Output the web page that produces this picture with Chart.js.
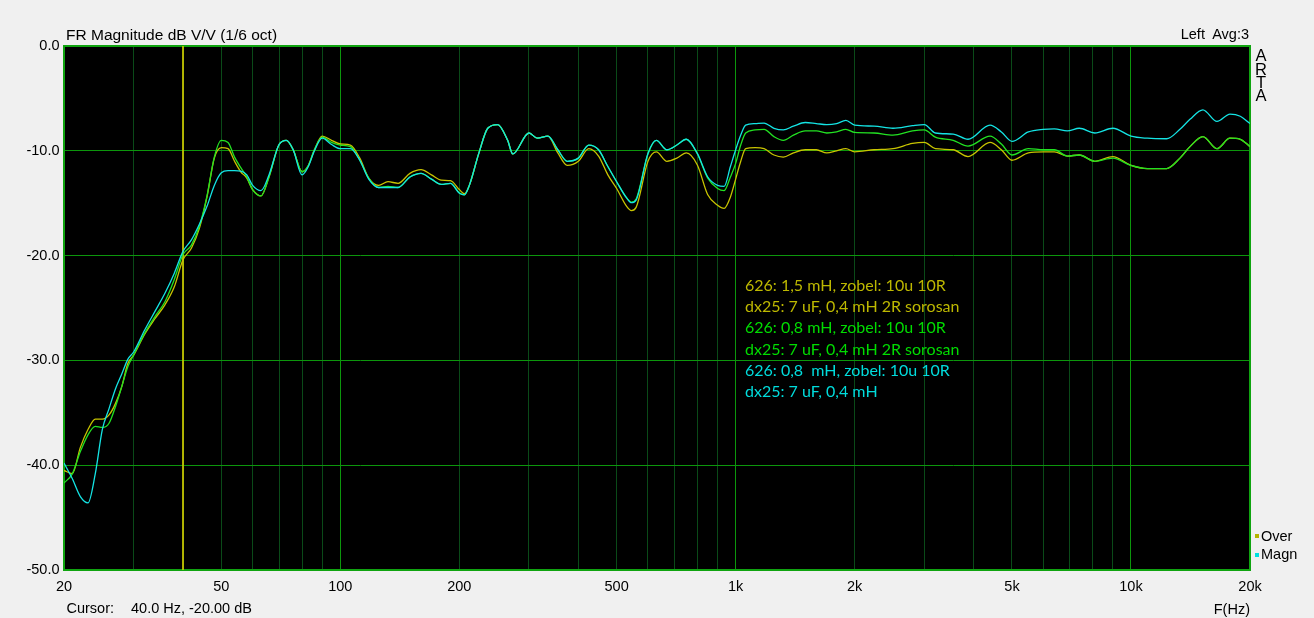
<!DOCTYPE html>
<html>
<head>
<meta charset="utf-8">
<script src="https://cdn.jsdelivr.net/npm/chart.js@4.4.0/dist/chart.umd.min.js"></script>
<style>
  html, body { margin: 0; padding: 0; background: #f0f0f0; }
  #wrap { position: relative; width: 1314px; height: 618px; overflow: hidden; }
  #wrap canvas { position: absolute; left: 0; top: 0; }
  .t { position: absolute; font-family: "Liberation Sans", Arial, sans-serif; color: #000; white-space: pre; line-height: 1; }
  .note { position: absolute; left: 745px; top: 274.3px; font-family: Lato, sans-serif; font-size: 16px; line-height: 21.1px; }
  .note span { display: block; white-space: pre; }
  .sq { position: absolute; width: 4px; height: 4px; }
</style>
</head>
<body>
<div id="wrap">
  <canvas id="fr" width="1314" height="618"></canvas>
  <div class="t" style="left:66px; top:26.6px; font-size:15.5px">FR Magnitude dB V/V (1/6 oct)</div>
  <div class="t" style="right:65px; top:27.4px; font-size:14.5px">Left  Avg:3</div>
  <div class="t" style="left:1251px; width:20px; top:49.3px; font-size:16.5px; line-height:13.33px; text-align:center">A<br>R<br>T<br>A</div>
  <div class="t" style="left:66.5px; top:601.4px; font-size:14.5px">Cursor:</div>
  <div class="t" style="left:131px; top:601.4px; font-size:14.5px">40.0 Hz, -20.00 dB</div>
  <div class="t" style="right:64px; top:601.7px; font-size:14.5px">F(Hz)</div>
  <div class="sq" style="left:1255px; top:534px; background:#b4b400"></div>
  <div class="t" style="left:1261px; top:528.7px; font-size:14.5px">Over</div>
  <div class="sq" style="left:1255px; top:553px; background:#00e0e0"></div>
  <div class="t" style="left:1261px; top:546.7px; font-size:14.5px">Magn</div>
  <div class="note"><span style="color:#bdb800">626: 1,5 mH, zobel: 10u 10R</span><span style="color:#bdb800">dx25: 7 uF, 0,4 mH 2R sorosan</span><span style="color:#00dc00">626: 0,8 mH, zobel: 10u 10R</span><span style="color:#00dc00">dx25: 7 uF, 0,4 mH 2R sorosan</span><span style="color:#00dcdc">626: 0,8  mH, zobel: 10u 10R</span><span style="color:#00dcdc">dx25: 7 uF, 0,4 mH</span></div>
</div>
<script>
// frequency points (Hz) shared by all three measurements
const freqHz = [20,21,22,23,24,25,26,27,28,29,30,32,34,36,38,40,42,44,46,48,50,52,54,56,58,60,63,66,70,73,76,80,83,86,90,95,
  100,106,112,118,125,132,140,150,160,170,180,190,200,206,212,224,236,250,265,273,300,315,335,355,375,400,425,450,475,
  500,530,545,560,600,630,670,710,750,800,850,900,935,970,1000,1030,1060,1120,1180,1250,1320,1400,1500,1600,1700,1800,1900,
  2000,2240,2500,2800,3000,3200,3550,3870,4400,4700,5000,5500,6000,6400,6900,7400,8100,9000,10000,11000,12300,13300,14100,
  15200,16500,17800,18900,20000];

// 626: 1,5 mH, zobel 10u 10R / dx25: 7 uF, 0,4 mH 2R sorosan
const yellowDb = [-40.5,-40.8,-38.3,-36.6,-35.6,-35.6,-35.2,-34.1,-32.5,-30.3,-29.5,-27.5,-26.0,-24.7,-23.0,-20.4,-19.3,-17.4,-14.4,-10.7,-9.7,-9.8,-11.0,-12.0,-12.6,-13.7,-14.3,-12.5,-9.4,-9.0,-9.9,-12.0,-11.4,-9.9,-8.6,-9.0,
  -9.35,-9.45,-10.7,-12.6,-13.3,-12.95,-13.1,-12.15,-11.8,-12.3,-12.8,-12.85,-13.7,-14.1,-13.3,-10.25,-7.85,-7.5,-9.0,-10.3,-8.3,-8.8,-8.6,-10.2,-11.4,-11.0,-9.8,-10.5,-12.3,
  -13.6,-15.3,-15.7,-15.4,-11.0,-10.1,-11.0,-10.7,-10.2,-11.35,-14.2,-15.2,-15.5,-14.4,-12.7,-11.0,-9.8,-9.7,-9.8,-10.4,-10.6,-10.2,-9.9,-9.9,-10.2,-10.0,-9.8,
  -10.1,-9.9,-9.8,-9.3,-9.2,-9.8,-9.9,-10.55,-9.2,-9.9,-10.9,-10.2,-10.1,-10.1,-10.5,-10.4,-11.0,-10.55,-11.4,-11.7,-11.7,-10.7,-9.6,
  -8.65,-9.8,-8.8,-8.9,-9.6];

// 626: 0,8 mH, zobel 10u 10R / dx25: 7 uF, 0,4 mH 2R sorosan
const greenDb = [-41.7,-40.8,-38.7,-37.1,-36.3,-36.4,-36.0,-34.4,-32.5,-30.6,-29.5,-27.4,-25.8,-24.4,-22.3,-19.9,-19.0,-17.2,-14.3,-10.6,-9.0,-9.2,-10.6,-11.6,-12.5,-13.7,-14.3,-12.5,-9.4,-9.0,-9.9,-12.0,-11.4,-9.9,-8.7,-9.2,
  -9.45,-9.6,-10.9,-12.6,-13.5,-13.4,-13.5,-12.5,-12.15,-12.7,-13.2,-13.1,-14.0,-14.2,-13.3,-10.25,-7.85,-7.5,-9.0,-10.3,-8.3,-8.8,-8.6,-9.9,-11.0,-10.7,-9.45,-9.9,-11.5,
  -12.95,-14.5,-14.9,-14.6,-10.3,-9.0,-9.9,-9.45,-8.9,-10.3,-12.6,-13.6,-13.8,-12.5,-11.2,-9.45,-8.3,-8.0,-7.95,-8.65,-9.0,-8.5,-8.1,-8.1,-8.3,-8.2,-7.95,
  -8.25,-8.3,-8.5,-8.1,-8.0,-8.7,-9.0,-9.55,-8.6,-9.35,-10.4,-9.8,-9.9,-9.9,-10.5,-10.4,-11.0,-10.7,-11.4,-11.7,-11.7,-10.7,-9.6,
  -8.65,-9.8,-8.8,-8.9,-9.6];

// 626: 0,8 mH, zobel 10u 10R / dx25: 7 uF, 0,4 mH
const cyanDb = [-39.8,-41.3,-43.0,-43.6,-40.8,-36.6,-34.6,-32.7,-31.3,-29.9,-29.2,-27.1,-25.3,-23.6,-21.7,-19.6,-18.5,-17.0,-15.3,-13.3,-12.1,-11.9,-11.9,-11.95,-12.3,-13.3,-13.8,-12.3,-9.4,-9.0,-9.9,-12.3,-11.5,-10.0,-8.8,-9.4,
  -9.8,-9.8,-10.9,-12.7,-13.5,-13.5,-13.5,-12.5,-12.15,-12.7,-13.2,-13.1,-14.05,-14.2,-13.3,-10.25,-7.85,-7.5,-9.0,-10.3,-8.3,-8.8,-8.6,-9.9,-11.0,-10.7,-9.45,-9.9,-11.5,
  -12.95,-14.5,-14.95,-14.7,-10.25,-9.0,-9.9,-9.45,-8.9,-10.25,-12.5,-13.3,-13.4,-11.5,-9.9,-8.5,-7.55,-7.4,-7.35,-7.85,-8.0,-7.65,-7.3,-7.4,-7.5,-7.4,-7.1,
  -7.55,-7.65,-7.85,-7.6,-7.5,-8.3,-8.4,-8.9,-7.55,-8.2,-9.1,-8.2,-7.95,-7.9,-8.1,-7.85,-8.3,-7.85,-8.6,-8.8,-8.85,-7.95,-7.0,
  -6.1,-7.2,-6.5,-6.7,-7.4];

const cursorHz = 40;
const yRangeDb = [-50, 0];

const xGridHz = [20,30,40,50,60,70,80,90,100,200,300,400,500,600,700,800,900,1000,2000,3000,4000,5000,6000,7000,8000,9000,10000,20000];
const xLabelHz = [20,50,100,200,500,1000,2000,5000,10000,20000];
const xLabelText = ['20','50','100','200','500','1k','2k','5k','10k','20k'];
const decadeHz = [100,1000,10000];
const yTickDb = [0,-10,-20,-30,-40,-50];

const MAJOR = '#0c960c';
const MINOR = '#0a4a18';
const tickFont = { family: '"Liberation Sans", Arial, sans-serif', size: 14.5 };

function pts(vals) { return freqHz.map((f, i) => ({ x: f, y: vals[i] })); }
const isDecade = v => decadeHz.some(d => Math.abs(v - d) < 0.5);

const plotFrame = {
  id: 'plotFrame',
  beforeDraw(chart) {
    const a = chart.chartArea, ctx = chart.ctx;
    ctx.save();
    ctx.fillStyle = '#000';
    ctx.fillRect(a.left, a.top, a.right - a.left, a.bottom - a.top);
    ctx.restore();
  },
  beforeDatasetsDraw(chart) {
    const a = chart.chartArea, ctx = chart.ctx;
    ctx.save();
    ctx.strokeStyle = '#10a410';
    ctx.lineWidth = 2;
    ctx.strokeRect(a.left, a.top, a.right - a.left, a.bottom - a.top);
    ctx.restore();
  }
};

const line = (data, color, order) => ({
  data, borderColor: color, borderWidth: 1.3, pointRadius: 0,
  cubicInterpolationMode: 'monotone', order, fill: false
});

new Chart(document.getElementById('fr'), {
  type: 'line',
  data: {
    datasets: [
      line(pts(cyanDb), '#14e4e4', 1),
      line(pts(greenDb), '#22e222', 2),
      line(pts(yellowDb), '#c8c400', 3),
      { data: [{ x: cursorHz, y: yRangeDb[1] }, { x: cursorHz, y: yRangeDb[0] }],
        borderColor: '#c8c800', borderWidth: 1, pointRadius: 0, order: 4 }
    ]
  },
  options: {
    responsive: false,
    devicePixelRatio: 1,
    animation: false,
    events: [],
    layout: { padding: { left: 0, top: 46, right: 64, bottom: 0 } },
    plugins: { legend: { display: false }, tooltip: { enabled: false } },
    scales: {
      x: {
        type: 'logarithmic', min: 20, max: 20000,
        afterBuildTicks: s => { s.ticks = xGridHz.map(v => ({ value: v })); },
        afterFit: s => { s.height = 48; },
        grid: {
          drawTicks: false, lineWidth: 1,
          color: c => (c.tick && isDecade(c.tick.value)) ? MAJOR : MINOR
        },
        border: { display: false },
        ticks: {
          autoSkip: false, maxRotation: 0, padding: 8, color: '#000', font: tickFont,
          callback: v => { const i = xLabelHz.indexOf(v); return i < 0 ? '' : xLabelText[i]; }
        }
      },
      y: {
        min: yRangeDb[0], max: yRangeDb[1],
        afterBuildTicks: s => { s.ticks = yTickDb.map(v => ({ value: v })); },
        afterFit: s => { s.width = 64; },
        grid: { drawTicks: false, lineWidth: 1, color: MAJOR },
        border: { display: false },
        ticks: { padding: 4.5, color: '#000', font: tickFont, callback: v => v.toFixed(1) }
      }
    }
  },
  plugins: [plotFrame]
});
</script>
</body>
</html>
